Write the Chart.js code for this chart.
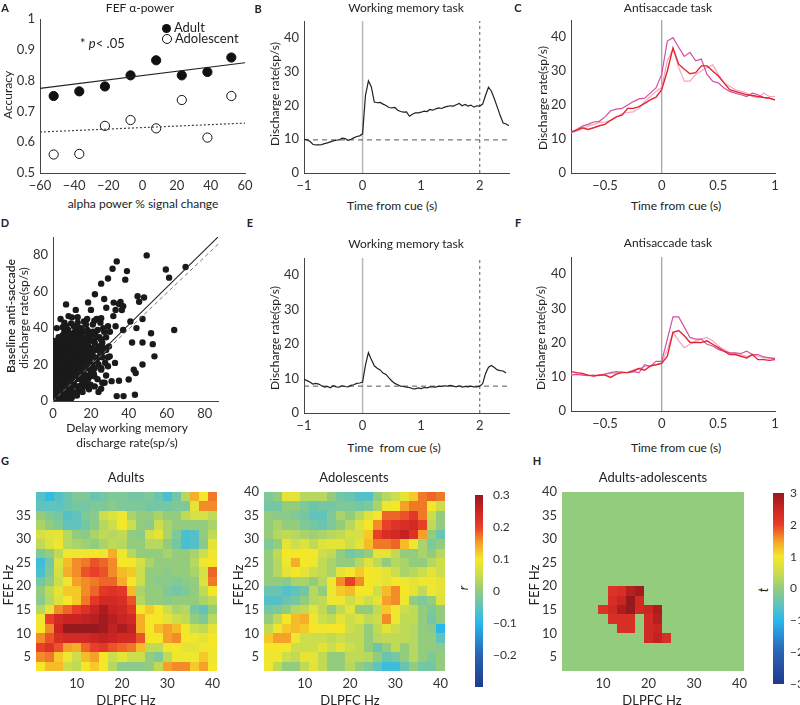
<!DOCTYPE html>
<html>
<head>
<meta charset="utf-8">
<script src="https://cdn.jsdelivr.net/npm/chart.js@4.4.0/dist/chart.umd.min.js"></script>
<style>
  body { margin: 0; width: 800px; height: 705px; position: relative; overflow: hidden; background: #fff;
         font-family: Lato, "Open Sans", sans-serif; color: #222; }
  canvas { position: absolute; }
  .txt { position: absolute; transform: translate(-50%, -50%); white-space: nowrap; font-size: 12px; }
  .rot { transform: translate(-50%, -50%) rotate(-90deg); }
  .left { transform: translate(0, -50%); }
  .letter { font-weight: bold; font-size: 11px; }
</style>
</head>
<body>
<script>
// ---- A: FEF alpha power vs accuracy ----
const alphaChange = [-52, -37, -22, -7, 8, 23, 38, 52];
const adultAccuracy = [0.750, 0.765, 0.781, 0.817, 0.866, 0.817, 0.828, 0.875];
const adolescentAccuracy = [0.560, 0.562, 0.653, 0.672, 0.645, 0.737, 0.615, 0.750];
const fitRange = [-60, 60];
const adultFit = [0.775, 0.858];
const adolescentFit = [0.633, 0.662];

// ---- B / E: working memory task ----
const wmTime = [-1, -0.95, -0.9, -0.85, -0.8, -0.75, -0.7, -0.65, -0.6, -0.55,
  -0.5, -0.45, -0.4, -0.35, -0.3, -0.25, -0.2, -0.15, -0.1, -0.05,
  0, 0.05, 0.1, 0.15, 0.2, 0.25, 0.3, 0.35, 0.4, 0.45,
  0.5, 0.55, 0.6, 0.65, 0.7, 0.75, 0.8, 0.85, 0.9, 0.95,
  1, 1.05, 1.1, 1.15, 1.2, 1.25, 1.3, 1.35, 1.4, 1.45,
  1.5, 1.55, 1.6, 1.65, 1.7, 1.75, 1.8, 1.85, 1.9, 1.95,
  2, 2.05, 2.1, 2.15, 2.2, 2.25, 2.3, 2.35, 2.4, 2.45, 2.5];
const wmRateB = [10.0, 9.8, 9.4, 8.5, 8.3, 8.3, 8.4, 8.7, 8.9, 9.2,
  9.5, 9.7, 9.8, 10.3, 10.2, 9.7, 10.0, 10.4, 10.8, 11.0,
  11.6, 23.0, 27.3, 25.5, 21.0, 20.8, 20.9, 20.4, 20.0, 19.4,
  19.3, 19.4, 18.6, 18.2, 18.0, 18.1, 16.8, 17.4, 17.8, 17.8,
  18.0, 18.3, 18.2, 18.8, 18.6, 19.0, 19.3, 19.1, 19.5, 19.7,
  19.9, 19.8, 20.2, 20.6, 19.9, 20.3, 19.8, 20.1, 19.5, 19.9,
  19.8, 20.4, 23.0, 25.4, 24.2, 22.0, 19.5, 17.0, 14.8, 14.5, 14.0];
const wmRateE = [9.8, 9.4, 9.0, 8.4, 8.6, 8.4, 7.9, 7.5, 7.7, 7.3,
  7.9, 7.6, 7.5, 7.9, 7.7, 7.6, 8.0, 8.2, 8.6, 8.7,
  9.0, 14.0, 17.5, 15.5, 13.7, 13.0, 12.5, 11.6, 11.2, 10.2,
  9.3, 8.6, 8.2, 7.8, 7.7, 7.5, 7.4, 7.1, 7.0, 7.3,
  7.1, 7.4, 7.3, 7.6, 7.6, 7.5, 7.8, 7.7, 7.9, 7.8,
  8.0, 7.8, 7.6, 7.9, 7.5, 7.7, 7.6, 7.8, 7.6, 7.6,
  7.8, 8.5, 11.5, 13.3, 13.8, 13.2, 12.5, 12.3, 12.2, 11.6];
const baselineB = 9.8;
const baselineE = 7.8;

// ---- C / F: antisaccade task ----
const asTime = [-0.8, -0.75, -0.7, -0.65, -0.6, -0.55, -0.5, -0.45, -0.4, -0.35,
  -0.3, -0.25, -0.2, -0.15, -0.1, -0.05, 0, 0.05, 0.1, 0.15,
  0.2, 0.25, 0.3, 0.35, 0.4, 0.45, 0.5, 0.55, 0.6, 0.65,
  0.7, 0.75, 0.8, 0.85, 0.9, 0.95, 1];
const cRed = [12.0, 12.6, 13.3, 12.8, 13.3, 13.9, 14.3, 15.5, 16.5, 17.0,
  19.0, 19.0, 19.5, 20.5, 21.5, 22.3, 24.5, 30.0, 36.8, 32.0,
  30.5, 29.2, 29.5, 31.5, 31.5, 30.0, 28.5, 26.5, 24.5, 24.0,
  23.5, 23.0, 22.8, 22.5, 22.2, 22.0, 21.5];
const cMagenta = [12.0, 12.8, 13.8, 14.3, 15.0, 15.2, 16.5, 18.3, 18.8, 19.0,
  20.0, 21.0, 21.8, 22.0, 23.5, 25.0, 29.0, 38.8, 39.8, 37.0,
  34.3, 35.5, 33.0, 33.5, 29.0, 27.0, 26.5, 25.0, 24.0, 23.5,
  23.0, 22.5, 23.5, 23.0, 22.2, 22.0, 21.5];
const cPink = [11.8, 12.3, 13.0, 13.8, 14.3, 14.8, 15.0, 15.5, 16.5, 17.5,
  17.8, 18.0, 19.0, 21.0, 22.5, 24.0, 25.2, 33.0, 36.5, 31.0,
  27.0, 27.0, 29.0, 30.0, 31.0, 31.8, 29.0, 26.5, 25.5, 24.5,
  24.0, 23.5, 22.5, 22.0, 23.5, 22.5, 22.5];
const fRed = [11.5, 11.2, 11.0, 10.5, 10.2, 10.5, 10.5, 9.8, 10.8, 11.2,
  11.3, 11.7, 12.4, 11.9, 13.2, 13.5, 13.9, 16.0, 23.0, 23.5,
  22.0, 20.0, 20.0, 20.0, 20.5, 19.5, 18.5, 17.5, 16.5, 16.5,
  16.0, 15.5, 16.5, 15.0, 15.0, 14.8, 15.0];
const fMagenta = [10.5, 10.8, 10.5, 10.3, 10.5, 10.3, 10.8, 11.2, 11.5, 11.3,
  11.2, 11.5, 11.2, 13.5, 13.0, 14.5, 14.5, 21.0, 27.5, 27.5,
  24.5, 21.5, 21.0, 21.0, 19.5, 19.0, 18.0, 17.5, 17.0, 17.0,
  16.8, 17.5, 16.5, 16.5, 15.8, 15.5, 15.2];
const fPink = [10.8, 10.5, 10.8, 10.5, 10.2, 10.5, 10.8, 11.0, 11.0, 11.5,
  11.2, 12.0, 12.5, 13.0, 13.3, 13.5, 14.0, 18.0, 23.0, 20.5,
  18.5, 19.5, 20.5, 21.0, 21.5, 20.5, 19.0, 18.0, 17.0, 16.8,
  16.5, 16.0, 16.3, 16.0, 15.5, 15.5, 15.5];

// ---- D: delay working memory vs baseline anti-saccade (x, y) ----
const delayVsBaseline = [
  [49.4, 79.9], [33.6, 76.6], [31.4, 72.6], [39, 71.3], [69.9, 73.5], [59.5, 72.2], [61.2, 67.7], [29, 67.2],
  [38.1, 66.6], [25.4, 64.4], [22.1, 58.6], [35.6, 54.4], [45.4, 54.4], [44.6, 57.5], [48, 56.8], [18.5, 54.1],
  [6.9, 53], [8.2, 46.6], [10, 45.9], [28.1, 51.2], [34.8, 53.2], [36.3, 49.9], [31.8, 46.6], [21.8, 44.1],
  [16.3, 43.6], [5.1, 40.5], [25.4, 45.4], [40.8, 43.6], [47.2, 45], [63.9, 39], [51.7, 37.2], [47.2, 32.1],
  [41.7, 32.1], [52.6, 31.2], [53.5, 24.5], [47.2, 20], [42.6, 17.2], [43.6, 15.4], [39.9, 11.8], [34.8, 11.1],
  [30.9, 10.9], [27.2, 10], [33.6, 2.7], [37.2, 2.7], [43.2, 3.4], [25.4, 6.7], [21.8, 13.6], [19, 6.4],
  [14.5, 8.2], [29.9, 24.5], [25.4, 26.3], [20, 28.1], [25.4, 33.6], [23.6, 39], [18.1, 39], [14.5, 37.2],
  [11.8, 35.4], [7.3, 29.9], [1.8, 25.4], [25.4, 17.2], [29, 19.1], [32.7, 20.9], [13, 46], [9.6, 42.6],
  [33, 41], [37, 39], [30, 38], [44, 40], [12, 50], [20, 50], [27, 56], [32, 54], [33, 50], [37, 52],
  [0.5, 1], [1, 3], [0.5, 5], [2, 2], [1.5, 7], [3, 1], [2.5, 4], [0.8, 9], [3.5, 6], [4, 3],
  [1, 12], [2, 10], [4.5, 8], [3, 14], [0.5, 16], [2, 18], [1.5, 20], [4, 11], [3.5, 17], [5, 5],
  [0.3, 22], [2.5, 25], [1, 14], [4.8, 13], [0.5, 0.5], [2, 0.8], [4, 0.6], [5, 1.5], [3, 8], [1.8, 11],
  [0.9, 19], [2.8, 21], [4.2, 19], [3.3, 24], [1.2, 27], [4.6, 23], [2.2, 15], [0.7, 25], [3.8, 28], [1.6, 30],
  [3, 35], [2, 40], [4, 45], [1, 32], [6, 43],
  [5.5, 2], [6, 6], [7, 4], [8, 1], [9, 3], [6.5, 9], [7.5, 12], [8.5, 7], [9.5, 10], [5.8, 15],
  [6.8, 18], [8.2, 14], [9.2, 17], [5.2, 20], [7.2, 22], [8.8, 20], [9.6, 24], [6.2, 26], [7.8, 27], [5.6, 11],
  [9.8, 13], [6.4, 30], [8.4, 31], [7, 34], [9, 28], [5.4, 24], [7.7, 16], [8.9, 5], [6.7, 1.2], [9.4, 1],
  [5, 33], [6, 38], [8, 36], [9.7, 35], [7.4, 8],
  [10.5, 5], [11, 9], [12, 12], [13, 8], [14, 15], [10.8, 17], [11.8, 20], [12.8, 18], [13.8, 22], [14.6, 12],
  [10.2, 24], [11.5, 27], [12.5, 25], [13.5, 29], [14.5, 26], [10.6, 31], [12.2, 33], [13.2, 35], [14.2, 32], [11.2, 14],
  [12.6, 3], [14, 6], [10, 2], [11.6, 38], [13.6, 40], [14.8, 19], [10.4, 12], [12.9, 22], [11.9, 30], [14.4, 36],
  [15.5, 10], [16, 16], [17, 20], [18, 14], [19, 22], [15.8, 25], [16.8, 27], [17.8, 24], [18.8, 30], [19.5, 18],
  [15.2, 30], [16.4, 33], [17.6, 35], [18.6, 38], [19.6, 27], [15.6, 5], [17.2, 8], [18.4, 12], [19.8, 9], [16.6, 21],
  [17.4, 42], [15, 40], [18, 29], [19.2, 33],
  [20.5, 20], [21, 25], [22, 28], [23, 22], [24, 30], [25, 26], [26, 32], [27, 29], [28, 35], [29, 24],
  [20.8, 33], [22.5, 38], [24.5, 35], [26.5, 40], [21.5, 15], [23.5, 12], [25.5, 18], [27.5, 21], [29.5, 30], [22, 8],
  [24, 5], [28, 14], [26, 10], [21, 42], [23, 45], [25, 43], [27, 38], [29, 41], [20, 36], [24, 24], [26, 24], [28, 28],
  [1, 1], [3, 3], [5, 3.5], [2, 6], [4, 6], [6, 4], [1, 9], [3, 10], [5, 8], [7, 7],
  [2, 13], [4, 15], [6, 12], [8, 10], [10, 8], [1, 17], [3, 19], [5, 17], [7, 14], [9, 12],
  [11, 11], [2, 22], [4, 21], [6, 20], [8, 18], [10, 16], [12, 15], [13, 13], [1, 24], [3, 27],
  [5, 26], [7, 25], [9, 22], [11, 21], [13, 19], [15, 17], [16, 13], [2, 29], [4, 31], [6, 29],
  [8, 28], [10, 27], [12, 23], [14, 23], [16, 20], [18, 18], [3, 33], [5, 36], [7, 32], [9, 33],
  [11, 30], [13, 26], [15, 24], [17, 22], [19, 20], [20, 24], [6, 35], [8, 39], [10, 37], [12, 36],
  [14, 30], [16, 29], [18, 26], [21, 29], [22, 32], [23, 35], [11, 41], [13, 43], [15, 35], [17, 31],
  [19, 36], [21, 38], [24, 28], [26, 27], [25, 30], [7, 41], [16, 38], [18, 45], [0.5, 3], [0.5, 7],
  [0.5, 11], [0.5, 13], [0.5, 18], [0.5, 20], [0.5, 28], [0.5, 33], [2, 3.5], [4, 1.5], [6, 2], [8, 3],
  [11, 4], [13, 5], [15, 7], [17, 10], [19, 13], [20, 16], [22, 18], [24, 20], [3, 12], [5, 14],
  [2.5, 8.5], [4.5, 10], [6.5, 15], [8.5, 16], [10.5, 19], [12.5, 21], [14.5, 20], [16.5, 24], [18.5, 22], [20.5, 27],
  [3.5, 22], [5.5, 22.5], [7.5, 20], [9.5, 19.5], [11.5, 17.5], [13.5, 16.5], [6, 24], [8, 24], [10, 29], [12, 28]
];
const fitLineD = [[0, 1], [87, 90]];
const unityLineD = [[0, 0], [87, 86]];

// ---- G / H: cross-frequency maps ----
const dlpfcHz = [2, 4, 6, 8, 10, 12, 14, 16, 18, 20, 22, 24, 26, 28, 30, 32, 34, 36, 38, 40];
const fefHz = [39, 37, 35, 33, 31, 29, 27, 25, 23, 21, 19, 17, 15, 13, 11, 9, 7, 5, 3];
const adultsR = [
  [-0.06, -0.09, -0.06, -0.04, -0.02, -0.02, -0.04, -0.03, -0.02, -0.02, -0.03, -0.03, -0.02, -0.04, -0.07, -0.03, 0.03, 0.14, 0.10, 0.17],
  [-0.05, -0.05, -0.05, -0.04, -0.03, -0.03, -0.02, -0.02, -0.01, -0.02, -0.02, -0.02, -0.03, -0.03, -0.03, -0.02, -0.02, 0.08, 0.16, 0.16],
  [0.00, -0.02, -0.03, -0.06, -0.05, -0.02, -0.01, 0.05, 0.07, 0.09, 0.02, 0.00, 0.00, 0.02, 0.00, 0.00, 0.04, 0.06, 0.06, 0.04],
  [0.02, 0.00, -0.02, -0.05, -0.05, -0.03, -0.01, 0.03, 0.05, 0.10, 0.05, 0.00, -0.01, 0.05, 0.02, 0.00, 0.00, 0.00, 0.00, 0.02],
  [0.06, 0.07, 0.08, 0.03, 0.00, -0.01, 0.02, 0.04, 0.03, 0.04, 0.00, -0.01, 0.06, 0.08, 0.02, -0.02, -0.07, -0.06, 0.00, 0.04],
  [0.04, 0.07, 0.09, 0.03, 0.02, 0.01, 0.00, 0.02, 0.04, 0.03, 0.00, 0.00, 0.03, 0.03, 0.00, -0.03, -0.07, -0.06, -0.01, 0.08],
  [-0.02, 0.00, 0.04, 0.09, 0.09, 0.09, 0.10, 0.09, 0.14, 0.09, 0.03, 0.00, 0.00, 0.00, 0.02, 0.00, 0.00, 0.02, 0.05, 0.09],
  [-0.08, -0.03, 0.07, 0.13, 0.16, 0.17, 0.19, 0.18, 0.16, 0.10, 0.10, 0.06, 0.02, 0.00, 0.00, 0.00, 0.00, 0.03, 0.09, 0.10],
  [-0.07, -0.02, 0.06, 0.14, 0.16, 0.19, 0.20, 0.19, 0.16, 0.13, 0.12, 0.05, 0.00, 0.00, -0.01, 0.00, 0.00, 0.02, 0.06, 0.18],
  [-0.03, 0.00, 0.05, 0.09, 0.15, 0.16, 0.17, 0.18, 0.18, 0.14, 0.10, 0.05, 0.00, -0.01, -0.01, -0.02, -0.01, 0.00, 0.07, 0.17],
  [0.00, 0.04, 0.08, 0.12, 0.12, 0.16, 0.18, 0.21, 0.22, 0.21, 0.13, 0.02, 0.00, 0.00, -0.02, -0.03, -0.02, 0.00, 0.04, 0.10],
  [-0.01, 0.03, 0.07, 0.10, 0.12, 0.17, 0.21, 0.24, 0.24, 0.23, 0.19, 0.03, 0.00, 0.00, -0.01, 0.00, 0.00, 0.00, 0.02, 0.04],
  [0.03, 0.08, 0.16, 0.18, 0.20, 0.22, 0.25, 0.28, 0.25, 0.24, 0.21, 0.10, 0.12, 0.10, 0.05, 0.02, 0.03, -0.03, -0.05, 0.00],
  [0.09, 0.20, 0.24, 0.25, 0.25, 0.26, 0.27, 0.29, 0.27, 0.25, 0.24, 0.14, 0.10, 0.10, 0.08, 0.05, 0.04, 0.00, -0.02, 0.03],
  [0.10, 0.16, 0.25, 0.30, 0.31, 0.31, 0.30, 0.29, 0.26, 0.28, 0.26, 0.14, 0.10, 0.13, 0.15, 0.13, 0.10, 0.05, 0.04, 0.08],
  [0.16, 0.19, 0.23, 0.24, 0.24, 0.24, 0.25, 0.26, 0.25, 0.24, 0.24, 0.19, 0.10, 0.10, 0.15, 0.16, 0.10, 0.09, 0.08, 0.10],
  [0.20, 0.22, 0.19, 0.15, 0.14, 0.18, 0.20, 0.21, 0.19, 0.18, 0.17, 0.13, 0.04, 0.04, 0.09, 0.10, 0.08, 0.08, 0.09, 0.10],
  [0.16, 0.17, 0.12, 0.09, 0.05, 0.13, 0.15, 0.10, 0.05, 0.08, 0.05, 0.05, 0.00, -0.02, 0.04, 0.09, 0.09, 0.09, 0.12, 0.09],
  [0.10, 0.13, 0.13, 0.05, 0.04, 0.10, 0.12, 0.10, 0.03, -0.01, -0.01, -0.01, 0.00, 0.04, 0.15, 0.16, 0.16, 0.12, 0.15, 0.10]
];
const adolescentsR = [
  [-0.02, 0.00, 0.08, 0.08, 0.03, 0.03, 0.03, 0.00, -0.03, -0.04, -0.06, -0.06, 0.00, 0.03, 0.05, 0.08, 0.12, 0.17, 0.18, 0.17],
  [-0.03, -0.03, 0.00, 0.00, -0.02, -0.04, -0.03, -0.03, -0.02, -0.02, -0.03, -0.02, 0.02, 0.09, 0.10, 0.15, 0.17, 0.17, 0.10, 0.05],
  [0.00, -0.01, -0.01, -0.02, -0.03, -0.05, -0.05, -0.02, 0.02, 0.00, 0.03, 0.07, 0.10, 0.18, 0.18, 0.19, 0.21, 0.17, 0.05, 0.00],
  [0.00, 0.02, 0.00, 0.00, -0.02, -0.03, -0.04, -0.02, 0.00, 0.03, 0.07, 0.10, 0.16, 0.20, 0.22, 0.23, 0.24, 0.20, 0.04, 0.00],
  [0.00, 0.03, 0.04, 0.03, 0.02, 0.01, 0.02, 0.03, 0.04, 0.06, 0.06, 0.12, 0.20, 0.23, 0.24, 0.26, 0.22, 0.15, 0.00, -0.04],
  [-0.02, 0.00, 0.08, 0.05, 0.07, 0.04, 0.07, 0.08, 0.08, 0.05, 0.08, 0.13, 0.17, 0.17, 0.18, 0.13, 0.09, 0.02, -0.02, 0.00],
  [0.00, 0.04, 0.10, 0.10, 0.10, 0.10, 0.05, 0.04, 0.00, -0.03, -0.02, 0.00, 0.08, 0.08, 0.04, 0.00, 0.00, 0.02, 0.00, 0.03],
  [0.00, 0.03, 0.09, 0.14, 0.10, 0.09, 0.04, 0.02, 0.00, 0.00, 0.03, 0.07, 0.04, 0.00, 0.03, 0.02, 0.00, 0.00, 0.03, 0.05],
  [0.00, 0.03, 0.08, 0.10, 0.08, 0.05, 0.04, 0.02, 0.08, 0.10, 0.12, 0.10, 0.09, 0.08, 0.05, 0.02, 0.03, 0.05, 0.08, 0.05],
  [0.00, 0.00, -0.01, 0.02, 0.02, 0.00, 0.03, 0.09, 0.16, 0.20, 0.16, 0.10, 0.09, 0.08, 0.10, 0.09, 0.08, 0.09, 0.09, 0.08],
  [-0.04, -0.04, -0.06, -0.05, -0.03, 0.03, 0.00, 0.09, 0.12, 0.13, 0.10, 0.10, 0.05, 0.13, 0.16, 0.10, 0.08, 0.04, 0.09, 0.08],
  [-0.06, -0.06, -0.04, -0.03, 0.00, 0.03, 0.04, 0.09, 0.09, 0.05, 0.08, 0.05, 0.08, 0.15, 0.16, 0.09, 0.00, -0.02, 0.00, 0.07],
  [-0.03, -0.02, 0.00, 0.03, 0.04, 0.08, 0.04, 0.00, 0.04, 0.08, 0.00, 0.00, 0.04, 0.12, 0.09, 0.05, 0.04, 0.00, -0.02, 0.00],
  [0.00, 0.04, 0.10, 0.13, 0.14, 0.09, 0.05, 0.04, 0.08, 0.05, 0.07, 0.04, 0.05, 0.16, 0.09, 0.04, 0.04, 0.00, -0.03, 0.00],
  [0.04, 0.09, 0.12, 0.13, 0.12, 0.10, 0.09, 0.10, 0.10, 0.05, 0.04, 0.00, 0.04, 0.08, 0.05, 0.04, 0.03, 0.00, -0.01, -0.10],
  [0.12, 0.15, 0.15, 0.09, 0.05, 0.05, 0.05, 0.04, 0.05, 0.04, 0.04, 0.00, 0.03, 0.04, 0.04, 0.04, 0.03, 0.00, 0.00, -0.05],
  [0.10, 0.10, 0.10, 0.05, 0.05, 0.05, 0.08, 0.05, 0.08, 0.05, 0.04, 0.00, -0.04, 0.00, 0.04, 0.00, 0.03, 0.00, 0.00, -0.01],
  [0.09, 0.09, 0.05, 0.04, 0.08, 0.08, 0.04, 0.00, 0.00, 0.04, 0.04, 0.03, 0.00, -0.04, -0.03, 0.00, 0.03, 0.00, -0.02, 0.00],
  [0.09, 0.04, 0.00, 0.00, 0.04, 0.08, 0.04, 0.00, 0.00, 0.03, 0.00, -0.02, -0.05, -0.08, -0.08, -0.04, 0.00, -0.03, -0.03, 0.00]
];
const differenceT = [
  [0, 0, 0, 0, 0, 0, 0, 0, 0, 0, 0, 0, 0, 0, 0, 0, 0, 0, 0, 0],
  [0, 0, 0, 0, 0, 0, 0, 0, 0, 0, 0, 0, 0, 0, 0, 0, 0, 0, 0, 0],
  [0, 0, 0, 0, 0, 0, 0, 0, 0, 0, 0, 0, 0, 0, 0, 0, 0, 0, 0, 0],
  [0, 0, 0, 0, 0, 0, 0, 0, 0, 0, 0, 0, 0, 0, 0, 0, 0, 0, 0, 0],
  [0, 0, 0, 0, 0, 0, 0, 0, 0, 0, 0, 0, 0, 0, 0, 0, 0, 0, 0, 0],
  [0, 0, 0, 0, 0, 0, 0, 0, 0, 0, 0, 0, 0, 0, 0, 0, 0, 0, 0, 0],
  [0, 0, 0, 0, 0, 0, 0, 0, 0, 0, 0, 0, 0, 0, 0, 0, 0, 0, 0, 0],
  [0, 0, 0, 0, 0, 0, 0, 0, 0, 0, 0, 0, 0, 0, 0, 0, 0, 0, 0, 0],
  [0, 0, 0, 0, 0, 0, 0, 0, 0, 0, 0, 0, 0, 0, 0, 0, 0, 0, 0, 0],
  [0, 0, 0, 0, 0, 0, 0, 0, 0, 0, 0, 0, 0, 0, 0, 0, 0, 0, 0, 0],
  [0, 0, 0, 0, 0, 2.2, 2.3, 2.7, 2.9, 0, 0, 0, 0, 0, 0, 0, 0, 0, 0, 0],
  [0, 0, 0, 0, 0, 2.3, 2.5, 3.0, 2.4, 0, 0, 0, 0, 0, 0, 0, 0, 0, 0, 0],
  [0, 0, 0, 0, 2.2, 2.4, 2.8, 3.0, 2.4, 2.5, 2.8, 0, 0, 0, 0, 0, 0, 0, 0, 0],
  [0, 0, 0, 0, 0, 2.3, 2.3, 2.3, 0, 2.4, 2.7, 0, 0, 0, 0, 0, 0, 0, 0, 0],
  [0, 0, 0, 0, 0, 0, 2.3, 2.3, 0, 2.4, 2.5, 0, 0, 0, 0, 0, 0, 0, 0, 0],
  [0, 0, 0, 0, 0, 0, 0, 0, 0, 2.4, 2.6, 2.3, 0, 0, 0, 0, 0, 0, 0, 0],
  [0, 0, 0, 0, 0, 0, 0, 0, 0, 0, 0, 0, 0, 0, 0, 0, 0, 0, 0, 0],
  [0, 0, 0, 0, 0, 0, 0, 0, 0, 0, 0, 0, 0, 0, 0, 0, 0, 0, 0, 0],
  [0, 0, 0, 0, 0, 0, 0, 0, 0, 0, 0, 0, 0, 0, 0, 0, 0, 0, 0, 0]
];

// tick labels
const accTicks = [0.5, 0.6, 0.7, 0.8, 0.9, 1];
const alphaTicks = [-60, -40, -20, 0, 20, 40, 60];
const rateTicks = [0, 10, 20, 30, 40];
const wmTimeTicks = [-1, 0, 1, 2];
const asTimeTicks = [-0.5, 0, 0.5, 1];
const scatterTicks = [0, 20, 40, 60, 80];
const hzTicksX = [10, 20, 30, 40];
const hzTicksY = [5, 10, 15, 20, 25, 30, 35, 40];
const hzTicksYAdults = [5, 10, 15, 20, 25, 30, 35];
const rTicks = [-0.2, -0.1, 0, 0.1, 0.2, 0.3];
const tTicks = [-3, -2, -1, 0, 1, 2, 3];

Chart.defaults.font.family = "Lato, 'Open Sans', sans-serif";
Chart.defaults.font.size = 13;
Chart.defaults.color = '#333';

const STOPS = [
  [-1, [31, 58, 140]], [-0.67, [42, 98, 180]], [-0.5, [40, 140, 215]], [-0.33, [40, 185, 235]],
  [-0.17, [95, 195, 190]], [0, [148, 204, 126]], [0.17, [205, 222, 75]], [0.33, [245, 232, 40]],
  [0.5, [245, 160, 40]], [0.67, [233, 60, 40]], [0.85, [200, 35, 35]], [1, [150, 25, 30]]
];
function colour(u) {
  u = Math.max(-1, Math.min(1, u));
  for (let i = 1; i < STOPS.length; i++) {
    if (u <= STOPS[i][0]) {
      const [u0, c0] = STOPS[i - 1], [u1, c1] = STOPS[i];
      const f = (u - u0) / (u1 - u0);
      return 'rgb(' + c0.map((c, k) => Math.round(c + (c1[k] - c) * f)).join(',') + ')';
    }
  }
  return 'rgb(150,25,30)';
}

const minus = v => String(v).replace('-', '\u2212');

function axis(min, max, ticks, extra) {
  return Object.assign({
    type: 'linear', min, max,
    grid: { display: false, drawTicks: false },
    border: { display: true, color: '#444', width: 1 },
    ticks: { padding: 5, color: '#333', callback: minus },
    afterBuildTicks: s => { s.ticks = ticks.map(v => ({ value: v })); }
  }, extra || {});
}

function makeChart(box, m, config) {
  const c = document.createElement('canvas');
  const w = m.left + (box.r - box.l) + m.right;
  const h = m.top + (box.b - box.t) + m.bottom;
  c.width = w; c.height = h;
  c.style.left = (box.l - m.left) + 'px';
  c.style.top = (box.t - m.top) + 'px';
  c.style.width = w + 'px'; c.style.height = h + 'px';
  document.body.appendChild(c);
  const o = config.options;
  o.responsive = false;
  o.animation = false;
  o.devicePixelRatio = 1;
  o.plugins = Object.assign({ legend: { display: false }, tooltip: { enabled: false } }, o.plugins || {});
  if (m.yRight) {
    o.layout = { padding: { top: m.top, left: m.left, right: 0, bottom: m.bottom } };
    o.scales.x.afterFit = s => { s.height = 0; s.paddingLeft = 0; s.paddingRight = 0; };
    o.scales.y.afterFit = s => { s.width = m.right; s.paddingTop = 0; s.paddingBottom = 0; };
  } else {
    o.layout = { padding: { top: m.top, right: m.right, left: 0, bottom: 0 } };
    o.scales.x.afterFit = s => { s.height = m.bottom; s.paddingLeft = 0; s.paddingRight = 0; };
    o.scales.y.afterFit = s => { s.width = m.left; s.paddingTop = 0; s.paddingBottom = 0; };
  }
  return new Chart(c, config);
}

const xy = (xs, ys) => ys.map((y, i) => ({ x: xs[i], y }));
const pairs = list => list.map(p => ({ x: p[0], y: p[1] }));
const line = (data, color, width, dash) => ({
  data, showLine: true, borderColor: color, borderWidth: width, borderDash: dash || [],
  pointRadius: 0, fill: false, tension: 0
});

// ---- A ----
makeChart({ l: 40, t: 19, r: 245, b: 173 }, { left: 40, top: 9, right: 10, bottom: 22 }, {
  type: 'scatter',
  data: {
    datasets: [
      line(xy(fitRange, adultFit), '#222', 1.2),
      line(xy(fitRange, adolescentFit), '#444', 1.2, [2, 2]),
      { data: xy(alphaChange, adultAccuracy), pointRadius: 4.6, backgroundColor: '#111', borderColor: '#111', borderWidth: 1 },
      { data: xy(alphaChange, adolescentAccuracy), pointRadius: 4.6, backgroundColor: '#fff', borderColor: '#111', borderWidth: 1 }
    ]
  },
  options: { scales: { x: axis(-60, 60, alphaTicks), y: axis(0.5, 1, accTicks) } }
});

// ---- B / E ----
function wmChart(box, rates, base) {
  const ts = wmTime.slice(0, rates.length);
  makeChart(box, { left: 40, top: 9, right: 8, bottom: 22 }, {
    type: 'scatter',
    data: {
      datasets: [
        line(xy(ts, rates), '#222', 1.2),
        line(xy([-1, 2.5], [base, base]), '#555', 1, [5, 4]),
        line(xy([2, 2], [0, 45]), '#777', 1.2, [3, 3]),
        line(xy([0, 0], [0, 45]), '#bbb', 1.6)
      ]
    },
    options: { scales: { x: axis(-1, 2.5, wmTimeTicks), y: axis(0, 45, rateTicks) } }
  });
}
wmChart({ l: 304, t: 21, r: 509, b: 173 }, wmRateB, baselineB);
wmChart({ l: 304, t: 258, r: 509, b: 413 }, wmRateE, baselineE);

// ---- C / F ----
function asChart(box, red, magenta, pink) {
  makeChart(box, { left: 40, top: 9, right: 12, bottom: 22 }, {
    type: 'scatter',
    data: {
      datasets: [
        line(xy(asTime, red), '#e3262b', 1.4),
        line(xy(asTime, magenta), '#d4509f', 1.2),
        line(xy(asTime, pink), '#f5a3c7', 1.2),
        line(xy([0, 0], [0, 45]), '#aaa', 1.4)
      ]
    },
    options: { scales: { x: axis(-0.8, 1, asTimeTicks), y: axis(0, 45, rateTicks) } }
  });
}
asChart({ l: 571, t: 20, r: 775, b: 173 }, cRed, cMagenta, cPink);
asChart({ l: 571, t: 257, r: 775, b: 411 }, fRed, fMagenta, fPink);

// ---- D ----
makeChart({ l: 53, t: 237, r: 218, b: 401 }, { left: 35, top: 9, right: 10, bottom: 22 }, {
  type: 'scatter',
  data: {
    datasets: [
      line(pairs(fitLineD), '#222', 1.1),
      line(pairs(unityLineD), '#777', 1, [4, 3]),
      { data: pairs(delayVsBaseline), pointRadius: 3.2, backgroundColor: '#1a1a1a', borderColor: '#1a1a1a', borderWidth: 0 }
    ]
  },
  options: { scales: { x: axis(0, 87, scatterTicks), y: axis(0, 90, scatterTicks) } }
});

// ---- heatmaps ----
function heatLayer(matrix, range) {
  return {
    id: 'heatLayer',
    beforeDatasetsDraw(chart) {
      const { ctx, scales: { x, y } } = chart;
      matrix.forEach((row, i) => row.forEach((v, j) => {
        const l = Math.round(x.getPixelForValue(dlpfcHz[j] - 1)), r = Math.round(x.getPixelForValue(dlpfcHz[j] + 1));
        const t = Math.round(y.getPixelForValue(fefHz[i] + 1)), b = Math.round(y.getPixelForValue(fefHz[i] - 1));
        ctx.fillStyle = colour(v / range);
        ctx.fillRect(l, t, r - l, b - t);
      }));
    }
  };
}
function barLayer(range) {
  return {
    id: 'barLayer',
    beforeDatasetsDraw(chart) {
      const { ctx, chartArea: a, scales: { y } } = chart;
      for (let py = a.top; py < a.bottom; py++) {
        ctx.fillStyle = colour(y.getValueForPixel(py + 0.5) / range);
        ctx.fillRect(a.left, py, a.right - a.left, 1);
      }
    }
  };
}
const heatAxis = (min, max, ticks) => axis(min, max, ticks, { border: { display: false } });
function heatChart(box, left, matrix, range, yTicks) {
  makeChart(box, { left, top: 9, right: 10, bottom: 22 }, {
    type: 'scatter',
    data: { datasets: [{ data: [] }] },
    options: { scales: { x: heatAxis(1, 41, hzTicksX), y: heatAxis(2, 40, yTicks) } },
    plugins: [heatLayer(matrix, range)]
  });
}
heatChart({ l: 36, t: 492, r: 217, b: 671 }, 30, adultsR, 0.3, hzTicksYAdults);
heatChart({ l: 264, t: 492, r: 445, b: 671 }, 26, adolescentsR, 0.3, hzTicksY);
heatChart({ l: 562, t: 492, r: 744, b: 671 }, 26, differenceT, 3, hzTicksY);

function colourBar(box, right, range, ticks, pad) {
  makeChart(box, { left: 0, top: 9, right, bottom: 9, yRight: true }, {
    type: 'scatter',
    data: { datasets: [{ data: [] }] },
    options: {
      scales: {
        x: { type: 'linear', display: false, min: 0, max: 1 },
        y: axis(-range, range, ticks, {
          position: 'right', border: { display: false },
          ticks: { padding: pad, color: '#333', font: { size: 12 }, callback: minus }
        })
      }
    },
    plugins: [barLayer(range)]
  });
}
colourBar({ l: 475, t: 495, r: 483, b: 687 }, 40, 0.3, rTicks, 10);
colourBar({ l: 773, t: 493, r: 784, b: 684 }, 16, 3, tTicks, 6);

// ---- text ----
function label(html, x, y, cls, style) {
  const d = document.createElement('div');
  d.className = 'txt ' + (cls || '');
  d.innerHTML = html;
  d.style.left = x + 'px';
  d.style.top = y + 'px';
  if (style) d.style.cssText += style;
  document.body.appendChild(d);
}
[['A', 5, 7], ['B', 258, 8], ['C', 518, 7], ['D', 5, 222], ['E', 250, 222], ['F', 518, 222], ['G', 5, 460], ['H', 537, 460]]
  .forEach(([s, x, y]) => label(s, x, y, 'letter'));

label('FEF \u03b1-power', 140, 7);
label('Working memory task', 406, 7);
label('Antisaccade task', 668, 7);
label('Working memory task', 406, 243);
label('Antisaccade task', 668, 242);

label('Accuracy', 7, 95, 'rot');
label('alpha power % signal change', 143, 203);
label('Discharge rate(sp/s)', 274, 94, 'rot');
label('Time from cue (s)', 392, 205);
label('Discharge rate(sp/s)', 542, 98, 'rot');
label('Time from cue (s)', 676, 205);
label('Discharge rate(sp/s)', 274, 338, 'rot');
label('Time&nbsp; from cue (s)', 394, 447);
label('Discharge rate(sp/s)', 540, 338, 'rot');
label('Time from cue (s)', 676, 447);
label('Baseline anti-saccade', 10, 316, 'rot', 'font-weight:600;');
label('discharge rate(sp/s)', 23, 318, 'rot');
label('Delay working memory', 127, 427);
label('discharge rate(sp/s)', 127, 442);

// legend + significance note in A
label('<span style="display:inline-block;width:9px;height:9px;border-radius:50%;background:#111;vertical-align:-1px"></span> Adult', 162, 27, 'left', 'font-size:13px;');
label('<span style="display:inline-block;width:8px;height:8px;border-radius:50%;border:1px solid #111;vertical-align:-1px"></span> Adolescent', 162, 38, 'left', 'font-size:13px;');
label('* <i>p</i>&lt; .05', 80, 43, 'left', 'font-size:13px;');

label('Adults', 126, 477, '', 'font-size:13px;');
label('Adolescents', 354, 477, '', 'font-size:13px;');
label('Adults-adolescents', 653, 477, '', 'font-size:13px;');
label('DLPFC Hz', 126, 700, '', 'font-size:13px;');
label('DLPFC Hz', 350, 700, '', 'font-size:13px;');
label('DLPFC Hz', 652, 700, '', 'font-size:13px;');
label('FEF Hz', 8, 585, 'rot', 'font-size:13px;');
label('FEF Hz', 238, 585, 'rot', 'font-size:13px;');
label('FEF Hz', 534, 585, 'rot', 'font-size:13px;');
label('<i>r</i>', 463, 588, 'rot', 'font-size:13px;');
label('<i>t</i>', 763, 590, 'rot', 'font-size:13px;');
</script>
</body>
</html>
